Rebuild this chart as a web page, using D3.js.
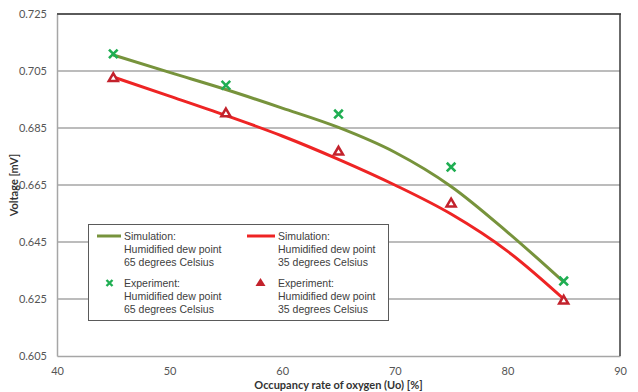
<!DOCTYPE html>
<html><head><meta charset="utf-8">
<script src="https://cdn.jsdelivr.net/npm/d3@7"></script>
<style>body{margin:0;background:#fff}svg{display:block}</style>
</head><body>
<svg id="c" width="638" height="392"></svg>
<script>
const xTicks = [40, 50, 60, 70, 80, 90];
const yTicks = [0.605, 0.625, 0.645, 0.665, 0.685, 0.705, 0.725];
const simX = [45, 50, 55, 60, 65, 70, 75, 80, 85];
const sim65 = [0.7106, 0.7045, 0.6985, 0.6920, 0.6852, 0.6765, 0.6645, 0.6485, 0.6310];
const sim35 = [0.7029, 0.6962, 0.6894, 0.6822, 0.6740, 0.6650, 0.6548, 0.6418, 0.6250];
const expX = [45, 55, 65, 75, 85];
const exp65 = [0.7110, 0.7000, 0.6899, 0.6713, 0.6313];
const exp35 = [0.7027, 0.6903, 0.6769, 0.6587, 0.6246];
const legendItems = [
  {type: "line", color: "#77933c", lines: ["Simulation:", "Humidified dew point", "65 degrees Celsius"]},
  {type: "line", color: "#ee2424", lines: ["Simulation:", "Humidified dew point", "35 degrees Celsius"]},
  {type: "x", color: "#1fae52", lines: ["Experiment:", "Humidified dew point", "65 degrees Celsius"]},
  {type: "tri", color: "#c3222c", lines: ["Experiment:", "Humidified dew point", "35 degrees Celsius"]}
];

const svg = d3.select("#c");
const L = 57, R = 620, T = 14, B = 356;
const x = d3.scaleLinear().domain([40, 90]).range([L, R]);
const y = d3.scaleLinear().domain([0.605, 0.725]).range([B, T]);
const axisFont = "Lato, 'Liberation Sans', sans-serif";

// gridlines
svg.append("g").selectAll("line").data(yTicks.slice(1, -1)).join("line")
  .attr("x1", L).attr("x2", R).attr("y1", d => y(d)).attr("y2", d => y(d))
  .attr("stroke", "#a6a6a6").attr("stroke-width", 1.5);

// y axis
const ya = svg.append("g").attr("transform", `translate(${L},0)`)
  .call(d3.axisLeft(y).tickValues(yTicks).tickFormat(d3.format(".3f")).tickSize(0).tickPadding(10));
ya.select(".domain").attr("stroke", "#a6a6a6").attr("stroke-width", 1.5);
ya.selectAll("text").attr("font-family", axisFont).attr("font-size", 11).attr("fill", "#555");

// x axis
const xa = svg.append("g").attr("transform", `translate(0,${B})`)
  .call(d3.axisBottom(x).tickValues(xTicks).tickFormat(d3.format("d")).tickSize(0).tickPadding(11));
xa.select(".domain").attr("stroke", "#a6a6a6").attr("stroke-width", 1.5);
xa.selectAll("text").attr("font-family", axisFont).attr("font-size", 11).attr("fill", "#555");

// top and right borders
svg.append("line").attr("x1", L).attr("x2", R + 1).attr("y1", T).attr("y2", T)
  .attr("stroke", "#5a5a5a").attr("stroke-width", 2);
svg.append("line").attr("x1", R).attr("x2", R).attr("y1", T).attr("y2", B)
  .attr("stroke", "#3a3a3a").attr("stroke-width", 1.5);

// axis titles
svg.append("text").attr("x", (L + R) / 2).attr("y", 389).attr("text-anchor", "middle")
  .attr("font-family", axisFont).attr("font-size", 11).attr("font-weight", "bold").attr("fill", "#333")
  .text("Occupancy rate of oxygen (Uo) [%]");
svg.append("text").attr("transform", `translate(18,${(T + B) / 2}) rotate(-90)`).attr("text-anchor", "middle")
  .attr("font-family", axisFont).attr("font-size", 11).attr("font-weight", "bold").attr("fill", "#333")
  .text("Voltage [mV]");

// lines
const line = d3.line().x(d => x(d[0])).y(d => y(d[1])).curve(d3.curveMonotoneX);
svg.append("path").datum(simX.map((v, i) => [v, sim35[i]])).attr("d", line)
  .attr("fill", "none").attr("stroke", "#ee2424").attr("stroke-width", 3);
svg.append("path").datum(simX.map((v, i) => [v, sim65[i]])).attr("d", line)
  .attr("fill", "none").attr("stroke", "#77933c").attr("stroke-width", 3);

// markers
function xMark(g, cx, cy, s, color, w) {
  g.append("path").attr("d", `M${cx - s},${cy - s}L${cx + s},${cy + s}M${cx - s},${cy + s}L${cx + s},${cy - s}`)
    .attr("stroke", color).attr("stroke-width", w).attr("fill", "none");
}
function triMark(g, cx, cy, s, color, w, fill) {
  g.append("path").attr("d", `M${cx},${cy - s}L${cx + s * 1.05},${cy + s * 0.8}L${cx - s * 1.05},${cy + s * 0.8}Z`)
    .attr("stroke", color).attr("stroke-width", w).attr("fill", fill).attr("stroke-linejoin", "miter");
}
const mk = svg.append("g");
expX.forEach((v, i) => triMark(mk, x(v), y(exp35[i]), 4.3, "#c3222c", 2.5, "#fff"));
expX.forEach((v, i) => xMark(mk, x(v), y(exp65[i]), 4.3, "#1fae52", 2.6));

// legend
const lg = svg.append("g");
lg.append("rect").attr("x", 88.5).attr("y", 224.5).attr("width", 300).attr("height", 96)
  .attr("fill", "#fff").attr("stroke", "#5a5a5a").attr("stroke-width", 1);
const cols = [[97, 124], [247, 278]];
const rows = [236, 283];
legendItems.forEach((it, i) => {
  const c = cols[i % 2], r = rows[Math.floor(i / 2)];
  const mx = (c[0] + c[1] - 4) / 2;
  if (it.type === "line") {
    lg.append("line").attr("x1", c[0]).attr("x2", c[1] - 3).attr("y1", r).attr("y2", r)
      .attr("stroke", it.color).attr("stroke-width", 3);
  } else if (it.type === "x") {
    xMark(lg, mx + 1, r, 3, it.color, 2.4);
  } else {
    lg.append("path").attr("d", `M${mx},${r - 5}L${mx + 5},${r + 3}L${mx - 5},${r + 3}Z`).attr("fill", it.color);
  }
  const t = lg.append("text").attr("font-family", "'Liberation Sans', Arial, sans-serif")
    .attr("font-size", 10.5).attr("fill", "#404040");
  it.lines.forEach((s, k) => t.append("tspan").attr("x", c[1]).attr("y", r + 4 + k * 12.8).text(s));
});
</script>
</body></html>
